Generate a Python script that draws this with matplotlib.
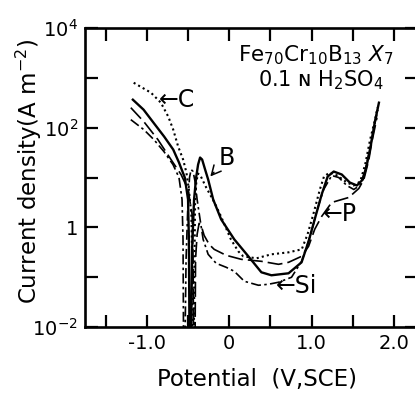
import numpy as np
import matplotlib
matplotlib.use("Agg")
import matplotlib.pyplot as plt

plt.rcParams['font.family'] = ['DejaVu Sans']
plt.rcParams['mathtext.default'] = 'regular'

# potential (V, SCE) and log10 of current density (A m^-2)
c_E = [-1.16, -0.95, -0.83, -0.74, -0.68, -0.62, -0.56, -0.52, -0.49, -0.46, -0.45, -0.445,
       -0.43, -0.42, -0.415, -0.40, -0.38, -0.35, -0.28, -0.18, -0.10, 0.02, 0.11, 0.17,
       0.33, 0.51, 0.72, 0.88, 0.95, 1.02, 1.10, 1.15, 1.22, 1.31, 1.43, 1.51, 1.59,
       1.65, 1.71, 1.77, 1.80]
c_logi = [2.90, 2.70, 2.50, 2.22, 1.96, 1.62, 1.36, 1.10, 0.76, 0.26, -0.64, -2.3,
          -2.3, -0.44, 0.46, 0.90, 1.08, 1.04, 0.80, 0.50, 0.22, -0.24, -0.48, -0.58,
          -0.62, -0.54, -0.50, -0.44, -0.14, 0.26, 0.76, 1.02, 1.10, 1.04, 0.90, 0.84, 0.92,
          1.26, 1.76, 2.16, 2.40]

b_E = [-1.17, -1.04, -0.92, -0.79, -0.68, -0.61, -0.54, -0.50, -0.49, -0.482,
       -0.463, -0.451, -0.427, -0.402, -0.378, -0.354, -0.329, -0.293, -0.256, -0.195,
       -0.098, 0.061, 0.232, 0.390, 0.512, 0.720, 0.878, 0.963, 1.037, 1.122, 1.195,
       1.268, 1.366, 1.463, 1.549, 1.622, 1.671, 1.720, 1.768, 1.817]
b_logi = [2.56, 2.36, 2.10, 1.82, 1.56, 1.30, 1.00, 0.56, -0.24, -2.3,
          -2.3, -0.44, 0.56, 1.00, 1.26, 1.40, 1.36, 1.16, 0.96, 0.56,
          0.16, -0.24, -0.58, -0.90, -0.96, -0.92, -0.70, -0.28, 0.16, 0.66, 1.02,
          1.12, 1.06, 0.90, 0.84, 0.96, 1.26, 1.66, 2.12, 2.50]

si_E = [-1.195, -1.037, -0.915, -0.793, -0.683, -0.610, -0.573, -0.561, -0.555,
        -0.537, -0.524, -0.500, -0.482, -0.463, -0.439, -0.415, -0.390, -0.354, -0.317,
        -0.256, -0.159, -0.037, 0.061, 0.183, 0.354, 0.476, 0.598, 0.756, 0.878, 0.939,
        1.000, 1.061, 1.146, 1.244, 1.329, 1.427, 1.512, 1.585, 1.646, 1.707, 1.756, 1.805]
si_logi = [2.16, 1.96, 1.76, 1.52, 1.26, 1.00, 0.56, -0.24, -2.3,
           -2.3, -0.64, 0.56, 1.00, 1.16, 1.12, 0.92, 0.56, 0.16, -0.24,
           -0.54, -0.72, -0.80, -0.88, -1.08, -1.16, -1.14, -1.10, -1.00, -0.68, -0.40,
           -0.08, 0.32, 0.76, 1.04, 1.00, 0.84, 0.76, 0.84, 1.12, 1.56, 2.00, 2.36]

p_E = [-1.195, -1.037, -0.866, -0.707, -0.585, -0.500, -0.451, -0.439, -0.433,
       -0.415, -0.409, -0.390, -0.366, -0.341, -0.305, -0.244, -0.183, -0.037, 0.146,
       0.390, 0.598, 0.720, 0.878, 0.963, 1.037, 1.122, 1.244, 1.451, 1.573, 1.634,
       1.695, 1.732, 1.768, 1.793]
p_logi = [2.40, 2.12, 1.76, 1.36, 1.06, 0.76, 0.26, -0.64, -2.3,
          -2.3, -0.64, -0.14, 0.08, 0.04, -0.16, -0.34, -0.44, -0.56, -0.64,
          -0.68, -0.74, -0.70, -0.58, -0.38, -0.04, 0.22, 0.50, 0.60, 0.78, 0.96,
          1.36, 1.72, 2.00, 2.20]

x_ticks = [-1.5, -1.0, -0.5, 0, 0.5, 1.0, 1.5, 2.0]
x_labels = ['', '-1.0', '', '0', '', '1.0', '', '2.0']
y_ticks = [1e-2, 1e-1, 1, 1e1, 1e2, 1e3, 1e4]
y_labels = ['$10^{-2}$', '', '1', '', '$10^{2}$', '', '$10^{4}$']

fig = plt.figure(figsize=(4.15, 3.98), dpi=100)
ax = fig.add_axes([0.205, 0.178, 0.80, 0.752])

ax.plot(c_E, 10 ** np.array(c_logi), color='black', lw=1.5, linestyle=(0, (1, 1.5)))
ax.plot(b_E, 10 ** np.array(b_logi), color='black', lw=1.7, linestyle='-')
ax.plot(si_E, 10 ** np.array(si_logi), color='black', lw=1.2, linestyle=(0, (6, 2, 1.5, 2)))
ax.plot(p_E, 10 ** np.array(p_logi), color='black', lw=1.2, linestyle=(0, (9, 3)))

ax.set_yscale('log')
ax.set_xlim(-1.75, 2.28)
ax.set_ylim(1e-2, 1e4)
ax.set_xticks(x_ticks)
ax.set_xticklabels(x_labels)
ax.set_yticks(y_ticks)
ax.set_yticklabels(y_labels)
ax.minorticks_off()
ax.tick_params(direction='in', length=9, width=1.6, labelsize=14, top=True, right=True,
               pad=5)
for s in ['left', 'bottom', 'top']:
    ax.spines[s].set_linewidth(1.9)
ax.spines['right'].set_visible(False)

ax.set_xlabel('Potential  (V,SCE)', fontsize=16.5, va='center', ha='center')
ax.xaxis.set_label_coords(0.518, -0.176)
ax.set_ylabel('Current density(A m$^{-2}$)', fontsize=16.5, va='center', ha='center')
ax.yaxis.set_label_coords(-0.17, 0.52)

ax.text(2.0, 10 ** 3.46, r'Fe$_{70}$Cr$_{10}$B$_{13}$ $\mathit{X}_7$', fontsize=15.5,
        ha='right', va='center')
ax.text(1.88, 10 ** 2.96, '0.1 ɴ H$_2$SO$_4$', fontsize=15, ha='right', va='center')

ax.text(-0.86, 10 ** 2.56, '←C', fontsize=17, ha='left', va='center')
ax.annotate('B', xy=(-0.23, 10 ** 1.02), xytext=(-0.13, 10 ** 1.40), fontsize=17,
            ha='left', va='center',
            arrowprops=dict(arrowstyle='->', color='black', lw=1.1, shrinkA=2, shrinkB=0))
ax.text(1.14, 10 ** 0.26, '←P', fontsize=17, ha='left', va='center')
ax.text(0.57, 10 ** -1.18, '←Si', fontsize=17, ha='left', va='center')

fig.savefig('out.png', dpi=100)
